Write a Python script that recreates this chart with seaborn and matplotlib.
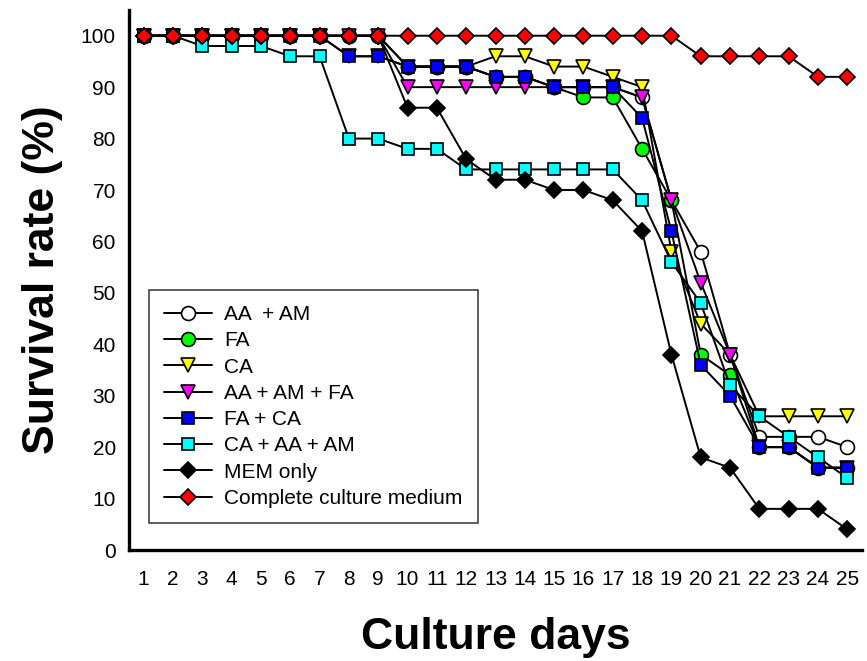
import numpy as np
import pandas as pd
import matplotlib
matplotlib.use("Agg")
import matplotlib.pyplot as plt
import seaborn as sns
from matplotlib.lines import Line2D

days = list(range(1, 26))

aa_am =        [100,100,100,100,100,100,100,100,100, 94, 94, 94, 92, 92, 90, 90, 90, 88, 68, 58, 38, 22, 22, 22, 20]
fa =           [100,100,100,100,100,100,100,100,100, 94, 94, 94, 92, 92, 90, 88, 88, 78, 68, 38, 34, 20, 20, 16, 16]
ca =           [100,100,100,100,100,100,100, 96, 96, 94, 94, 94, 96, 96, 94, 94, 92, 90, 58, 44, 38, 26, 26, 26, 26]
aa_am_fa =     [100,100,100,100,100,100,100,100,100, 90, 90, 90, 90, 90, 90, 90, 90, 88, 68, 52, 38, 20, 20, 16, 16]
fa_ca =        [100,100,100,100,100,100,100, 96, 96, 94, 94, 94, 92, 92, 90, 90, 90, 84, 62, 36, 30, 20, 20, 16, 16]
ca_aa_am =     [100,100, 98, 98, 98, 96, 96, 80, 80, 78, 78, 74, 74, 74, 74, 74, 74, 68, 56, 48, 32, 26, 22, 18, 14]
mem_only =     [100,100,100,100,100,100,100,100,100, 86, 86, 76, 72, 72, 70, 70, 68, 62, 38, 18, 16,  8,  8,  8,  4]
complete =     [100,100,100,100,100,100,100,100,100,100,100,100,100,100,100,100,100,100,100, 96, 96, 96, 96, 92, 92]

series_names = ["AA  + AM", "FA", "CA", "AA + AM + FA", "FA + CA",
                "CA + AA + AM", "MEM only", "Complete culture medium"]
series_values = [aa_am, fa, ca, aa_am_fa, fa_ca, ca_aa_am, mem_only, complete]

y_ticks = [0, 10, 20, 30, 40, 50, 60, 70, 80, 90, 100]

marker_styles = {
    "AA  + AM": ("o", "white", 10.0),
    "FA": ("o", "#00FF00", 10.0),
    "CA": ("v", "#FFFF00", 9.6),
    "AA + AM + FA": ("v", "#FF00FF", 9.6),
    "FA + CA": ("s", "#0000FF", 8.8),
    "CA + AA + AM": ("s", "#00FFFF", 8.8),
    "MEM only": ("D", "black", 8.2),
    "Complete culture medium": ("D", "#FF0000", 8.2),
}

rows = []
for name, vals in zip(series_names, series_values):
    for d, v in zip(days, vals):
        rows.append({"day": d, "survival": v, "series": name})
df = pd.DataFrame(rows)

sns.set_style("white")
plt.rcParams["font.family"] = ["Liberation Sans", "DejaVu Sans"]
plt.rcParams["text.color"] = "black"
plt.rcParams["axes.labelcolor"] = "black"
plt.rcParams["xtick.color"] = "black"
plt.rcParams["ytick.color"] = "black"

fig = plt.figure(figsize=(8.67, 6.61), dpi=100)
ax = fig.add_axes([129 / 867, (661 - 550) / 661, 733 / 867, 540 / 661])

handles = []
for i, name in enumerate(series_names):
    m, fc, ms = marker_styles[name]
    sub = df[df["series"] == name]
    sns.lineplot(data=sub, x="day", y="survival", ax=ax, color="black",
                 linewidth=1.4, marker=m, markersize=ms,
                 markerfacecolor=fc, markeredgecolor="black",
                 markeredgewidth=1.2, zorder=3 + i, legend=False,
                 errorbar=None)
    handles.append(Line2D([], [], color="black", linewidth=1.4, marker=m,
                          markersize=ms, markerfacecolor=fc,
                          markeredgecolor="black", markeredgewidth=1.2,
                          label=name))

ax.set_xlim(0.5, 25.5)
ax.set_ylim(0, 105)
ax.set_xticks(days)
ax.set_yticks(y_ticks)
ax.tick_params(axis="both", labelsize=15, direction="out", length=5.5,
               width=1.6, color="black", labelcolor="black")
ax.tick_params(axis="x", pad=9)
ax.tick_params(axis="y", pad=4)

for s in ["top", "right"]:
    ax.spines[s].set_visible(False)
for s in ["left", "bottom"]:
    ax.spines[s].set_linewidth(2.4)
    ax.spines[s].set_color("black")

ax.set_xlabel("Culture days", fontsize=32, fontweight="bold", labelpad=20,
              color="black")
ax.set_ylabel("Survival rate (%)", fontsize=32, fontweight="bold",
              labelpad=13, color="black")

leg = ax.legend(handles=handles, loc="upper left",
                bbox_to_anchor=((149 - 129) / 733, (550 - 290) / 540),
                fontsize=15, frameon=True, fancybox=False,
                edgecolor="black", handlelength=2.3, handletextpad=0.6,
                labelspacing=0.35, borderpad=0.72, borderaxespad=0.0,
                numpoints=1)
leg.get_frame().set_linewidth(1.1)
for t in leg.get_texts():
    t.set_color("black")
leg.set_zorder(20)

fig.savefig("out.png", dpi=100)
